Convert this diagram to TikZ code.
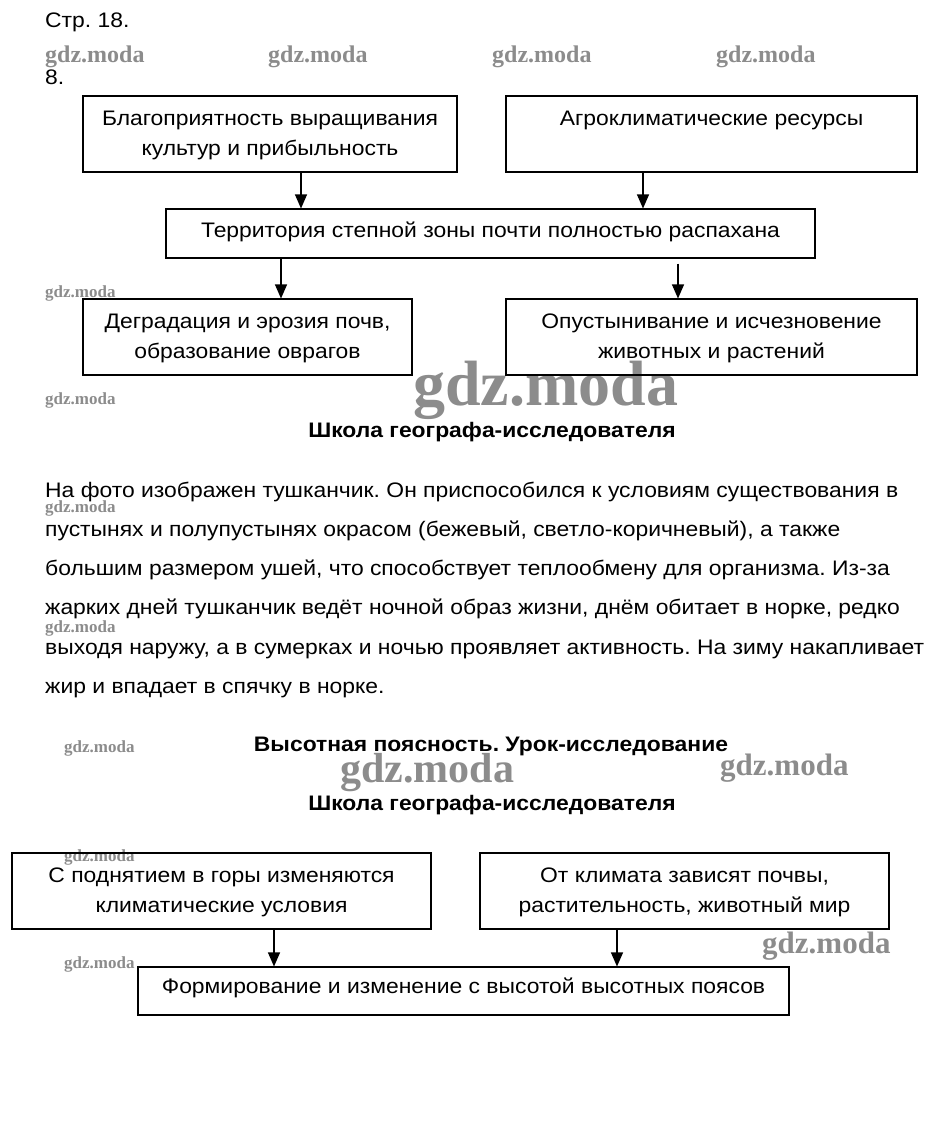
\documentclass[tikz,border=0pt]{standalone}
\usepackage{fontspec}
\setmainfont{Liberation Sans}[FakeStretch=1.09]
\newfontfamily\wmfont{Liberation Serif}
\usetikzlibrary{arrows.meta}
\frenchspacing
\begin{document}
\begin{tikzpicture}[x=1pt,y=-1pt,
  box/.style={draw, line width=1.1pt, inner sep=0pt},
  txt/.style={anchor=base, font=\fontsize{21}{30}\selectfont, inner sep=0pt},
  body/.style={anchor=base west, font=\fontsize{21}{30}\selectfont, inner sep=0pt},
  head/.style={anchor=base, font=\fontsize{21}{30}\selectfont\bfseries, inner sep=0pt},
  arr/.style={line width=1.1pt, -{Triangle[width=12pt,length=14pt]}},
  wm/.style={anchor=base west, text=black!45, inner sep=0pt, font=\wmfont\bfseries}]
\useasboundingbox (0,0) rectangle (942,1138);
\fill[white] (0,0) rectangle (942,1138);

% headers
\node[body] (hdr) at (45,27) {Стр. 18.};
\node[body] (num) at (45,84) {8.};

% watermarks
\foreach \x/\n in {45/w1,268/w2,492/w3,716/w4}
  \node[wm, font=\wmfont\bfseries\fontsize{24}{24}\selectfont] (\n) at (\x,62) {gdz.moda};
\foreach \y/\n in {297/w5,404/w6,512/w7,632/w8}
  \node[wm, font=\wmfont\bfseries\fontsize{17}{17}\selectfont] (\n) at (45,\y) {gdz.moda};
\foreach \y/\n in {752/w9,861/w10,968/w11}
  \node[wm, font=\wmfont\bfseries\fontsize{17}{17}\selectfont] (\n) at (64,\y) {gdz.moda};
\node[wm, font=\wmfont\bfseries\fontsize{64}{64}\selectfont] (w12) at (413,405) {gdz.moda};
\node[wm, font=\wmfont\bfseries\fontsize{42}{42}\selectfont] (w13) at (340,782) {gdz.moda};
\node[wm, font=\wmfont\bfseries\fontsize{31}{31}\selectfont] (w14) at (720,775) {gdz.moda};
\node[wm, font=\wmfont\bfseries\fontsize{31}{31}\selectfont] (w15) at (762,953) {gdz.moda};

% boxes part 1
\node[box, minimum width=374pt, minimum height=76pt] (b1) at (270,134) {};
\node[box, minimum width=411pt, minimum height=76pt] (b2) at (711.5,134) {};
\node[box, minimum width=649pt, minimum height=49pt] (b3) at (490.5,233.5) {};
\node[box, minimum width=329pt, minimum height=76pt] (b4) at (247.5,337) {};
\node[box, minimum width=411pt, minimum height=76pt] (b5) at (711.5,337) {};

\node[txt] (t1a) at (270,125) {Благоприятность выращивания};
\node[txt] (t1b) at (270,155) {культур и прибыльность};
\node[txt] (t2) at (711.5,125) {Агроклиматические ресурсы};
\node[txt] (t3) at (490.5,237) {Территория степной зоны почти полностью распахана};
\node[txt] (t4a) at (247.5,328) {Деградация и эрозия почв,};
\node[txt] (t4b) at (247.5,358) {образование оврагов};
\node[txt] (t5a) at (711.5,328) {Опустынивание и исчезновение};
\node[txt] (t5b) at (711.5,358) {животных и растений};

\coordinate (c1) at (301,0);
\coordinate (c2) at (643,0);
\coordinate (c3) at (281,0);
\coordinate (c4) at (678,0);
\draw[arr] (b1.south -| c1) -- (b3.north -| c1);
\draw[arr] (b2.south -| c2) -- (b3.north -| c2);
\draw[arr] (b3.south -| c3) -- (b4.north -| c3);
\draw[arr, shorten <=5pt] (b3.south -| c4) -- (b5.north -| c4);

% text block
\node[head] (h1) at (492,437) {Школа географа-исследователя};
\node[body] (p1) at (45,497) {На фото изображен тушканчик. Он приспособился к условиям существования в};
\node[body] (p2) at (45,536) {пустынях и полупустынях окрасом (бежевый, светло-коричневый), а также};
\node[body] (p3) at (45,575) {большим размером ушей, что способствует теплообмену для организма. Из-за};
\node[body] (p4) at (45,614) {жарких дней тушканчик ведёт ночной образ жизни, днём обитает в норке, редко};
\node[body] (p5) at (45,654) {выходя наружу, а в сумерках и ночью проявляет активность. На зиму накапливает};
\node[body] (p6) at (45,693) {жир и впадает в спячку в норке.};

\node[head] (h2) at (491,751) {Высотная поясность. Урок-исследование};
\node[head] (h3) at (492,810) {Школа географа-исследователя};

% boxes part 2
\node[box, minimum width=419pt, minimum height=76pt] (b6) at (221.5,891) {};
\node[box, minimum width=409pt, minimum height=76pt] (b7) at (684.5,891) {};
\node[box, minimum width=651pt, minimum height=48pt] (b8) at (463.5,991) {};

\node[txt] (t6a) at (221.5,882) {С поднятием в горы изменяются};
\node[txt] (t6b) at (221.5,912) {климатические условия};
\node[txt] (t7a) at (684.5,882) {От климата зависят почвы,};
\node[txt] (t7b) at (684.5,912) {растительность, животный мир};
\node[txt] (t8) at (463.5,993) {Формирование и изменение с высотой высотных поясов};

\coordinate (c5) at (274,0);
\coordinate (c6) at (617,0);
\draw[arr] (b6.south -| c5) -- (b8.north -| c5);
\draw[arr] (b7.south -| c6) -- (b8.north -| c6);
\end{tikzpicture}
\end{document}
